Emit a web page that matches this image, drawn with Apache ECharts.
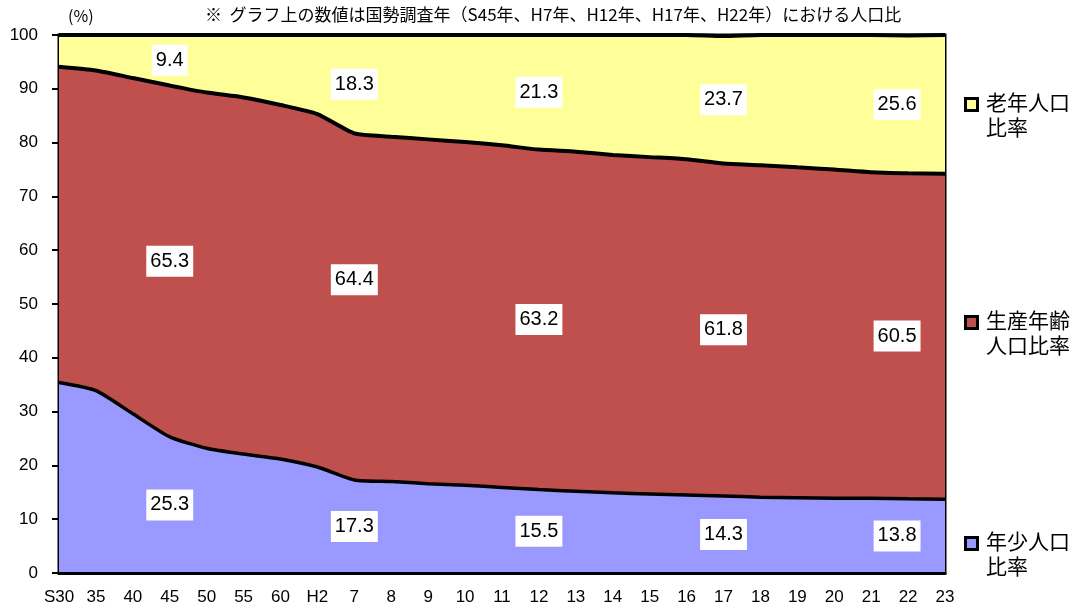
<!DOCTYPE html>
<html><head><meta charset="utf-8">
<script src="https://cdn.jsdelivr.net/npm/echarts@6/dist/echarts.min.js"></script>
<style>html,body{margin:0;padding:0;background:#fff}#c{width:1082px;height:610px}</style>
</head><body><div id="c"></div>
<script>
const categories = ['S30','35','40','45','50','55','60','H2','7','8','9','10','11','12','13','14','15','16','17','18','19','20','21','22','23'];
const young =      [35.4,33.9,29.6,25.3,23.2,22.1,21.2,19.7,17.3,17.0,16.6,16.3,15.9,15.5,15.2,14.9,14.7,14.5,14.3,14.1,14.0,13.9,13.9,13.8,13.7];
const productive = [58.7,59.5,62.4,65.3,66.1,66.3,65.8,65.6,64.4,64.1,64.0,63.8,63.6,63.2,63.1,62.8,62.6,62.4,61.8,61.7,61.4,61.1,60.6,60.5,60.5];
const elderly =    [5.9,6.6,8.0,9.4,10.7,11.6,13.0,14.7,18.3,18.9,19.4,19.9,20.5,21.3,21.7,22.3,22.7,23.1,23.7,24.2,24.6,25.0,25.5,25.6,25.8];
const labelIdx = [3, 8, 13, 18, 23];
const seriesNames = ['年少人口比率','生産年齢人口比率','老年人口比率'];
const colors = ['#9999FF','#C0504D','#FFFF99'];
const yTicks = [0,10,20,30,40,50,60,70,80,90,100];

const FONT = '"Liberation Sans", "Noto Sans CJK JP", sans-serif';
const chart = echarts.init(document.getElementById('c'), null, {renderer:'canvas'});

function labelData(k){
  return labelIdx.map((i, n) => {
    const base = k===0 ? 0 : (k===1 ? young[i] : young[i]+productive[i]);
    const v = [young, productive, elderly][k][i];
    const item = {value:[i, base + v/2], lab: v.toFixed(1)};
    const off = [0,0];
    if (n === labelIdx.length-1) off[0] = -11;
    if (k===1 && n===1) off[1] = -27;
    item.label = {offset: off};
    return item;
  });
}
const labelSeries = [0,1,2].map(k => ({
  type:'scatter', symbolSize:0, z:10, silent:true,
  itemStyle:{opacity:1},
  data: labelData(k),
  label:{show:true, position:'inside', formatter: p => p.data.lab, opacity:1,
    backgroundColor:'#ffffff', padding:[6,4,5,4], color:'#000', fontSize:20, fontFamily:FONT}
}));

const areas = [young, productive, elderly].map((d,k) => ({
  name: seriesNames[k], type:'line', stack:'total', data:d, symbol:'none', smooth:0.2,
  lineStyle:{color:'#000', width:k===0?3.5:4}, areaStyle:{color:colors[k], opacity:1},
  itemStyle:{color:colors[k]}, z:2
}));

function legendItem(top, color, l1, l2){
  return {type:'group', left:964, top:top, children:[
    {type:'rect', shape:{x:1.5,y:1.5,width:12,height:12}, style:{fill:color, stroke:'#000', lineWidth:3}},
    {type:'text', left:22, top:-5, style:{text:l1, font:'21px "Noto Sans CJK JP"', fill:'#000'}},
    {type:'text', left:22, top:20, style:{text:l2, font:'21px "Noto Sans CJK JP"', fill:'#000'}}
  ]};
}

chart.setOption({
  animation:false,
  grid:{left:59, right:137, top:35, bottom:37, show:true, borderColor:'#000', borderWidth:3, backgroundColor:'transparent'},
  xAxis:{type:'category', data:categories, boundaryGap:false,
    axisLine:{lineStyle:{color:'#000', width:3}}, axisTick:{show:false},
    axisLabel:{color:'#000', fontSize:17, fontFamily:FONT, margin:16, interval:0}, z:5},
  yAxis:{type:'value', min:0, max:100, interval:10, splitLine:{show:false},
    axisLine:{show:true, lineStyle:{color:'#000', width:3}},
    axisTick:{show:true, length:7, lineStyle:{color:'#000', width:2}},
    axisLabel:{color:'#000', fontSize:17, fontFamily:FONT, margin:21,
      formatter: v => yTicks.includes(v) ? String(v) : ''}},
  series:[...areas, ...labelSeries],
  graphic:[
    {type:'text', left:68, top:8, style:{text:'(%)', font:'16px "Noto Sans CJK JP"', fill:'#000'}},
    {type:'text', left:205, top:6, style:{text:'※  グラフ上の数値は国勢調査年（S45年、H7年、H12年、H17年、H22年）における人口比', font:'17px "Noto Sans CJK JP"', fill:'#000'}},
    legendItem(92, colors[2], '老年人口', '比率'),
    legendItem(310, colors[1], '生産年齢', '人口比率'),
    legendItem(531, colors[0], '年少人口', '比率')
  ]
});
</script></body></html>
